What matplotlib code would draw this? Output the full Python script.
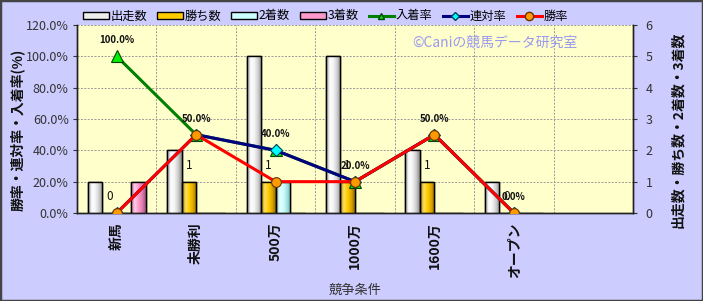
import matplotlib
matplotlib.use("Agg")
import matplotlib.pyplot as plt
import numpy as np
from matplotlib.colors import LinearSegmentedColormap
from matplotlib.patches import Patch
from matplotlib.lines import Line2D
from matplotlib.ticker import FuncFormatter, MultipleLocator

plt.rcParams['font.family'] = ['Noto Sans CJK JP', 'DejaVu Sans']

categories = ['新馬', '未勝利', '500万', '1000万', '1600万', 'オープン']
n_slots = 7
starts = [1, 2, 5, 5, 2, 1]
wins = [0, 1, 1, 1, 1, 0]
seconds = [0, 0, 1, 0, 0, 0]
thirds = [1, 0, 0, 0, 0, 0]
place_rate = [100.0, 50.0, 40.0, 20.0, 50.0, 0.0]
quinella_rate = [0.0, 50.0, 40.0, 20.0, 50.0, 0.0]
win_rate = [0.0, 50.0, 20.0, 20.0, 50.0, 0.0]

bar_names = ['出走数', '勝ち数', '2着数', '3着数']
line_names = ['入着率', '連対率', '勝率']

W, H = 703, 301
fig = plt.figure(figsize=(W / 100, H / 100), dpi=100)
fig.patch.set_facecolor('#CCCCFF')
fig.patches.append(plt.Rectangle((0, 0), 1, 1, transform=fig.transFigure,
                                 fill=False, edgecolor='#444444', linewidth=2.5, zorder=10))

left, right, bottom, top = 77 / W, 633 / W, 1 - 213 / H, 1 - 25 / H
axb = fig.add_axes([left, bottom, right - left, top - bottom])
axl = axb.twinx()
axb.set_facecolor('#FFFFCC')
axl.patch.set_visible(False)

x = np.arange(len(categories))
bw = 0.183
series = [starts, wins, seconds, thirds]
grad = [
    ['#8C8C8C', '#FFFFFF', '#F4F4F4', '#CFCFCF', '#8A8A8A'],
    ['#A07800', '#FFE060', '#FFCC00', '#E0A800', '#906800'],
    ['#80C0C0', '#E8FFFF', '#CCFFFF', '#A8E0E0', '#70B0B0'],
    ['#C06090', '#FFD0E8', '#FF99CC', '#E080B0', '#A05080'],
]
face = ['#EEEEEE', '#FFCC00', '#CCFFFF', '#FF99CC']
offsets = [-1.5, -0.5, 0.5, 1.5]
for vals, off, g, fc in zip(series, offsets, grad, face):
    cmap = LinearSegmentedColormap.from_list('g', g)
    bars = axb.bar(x + off * bw, vals, width=bw, color=fc, edgecolor='black',
                   linewidth=1.0, zorder=3)
    for b in bars:
        h = b.get_height()
        if h <= 0:
            continue
        x0 = b.get_x()
        im = axb.imshow(np.linspace(0, 1, 64).reshape(1, -1), cmap=cmap,
                        extent=[x0, x0 + b.get_width(), 0, h], aspect='auto',
                        zorder=3.5, interpolation='bilinear')
        im.set_clip_path(b)
        axb.bar(b.get_x() + b.get_width() / 2, h, width=b.get_width(), fill=False,
                edgecolor='black', linewidth=1.0, zorder=4)

# win count labels
for xi, v in zip(x, wins):
    axb.annotate(str(v), (xi - 0.5 * bw, v), xytext=(0, 7), textcoords='offset points',
                 ha='center', va='bottom', fontsize=8.5, color='#111111', zorder=6)

axb.set_xlim(-0.5, n_slots - 0.5)
axb.set_ylim(0, 6)
axl.set_ylim(0, 120)

axl.plot(x, place_rate, color='#008000', lw=2.2, marker='^', ms=8,
         mfc='#00EE00', mec='#004400', mew=0.8, zorder=5)
axl.plot(x, quinella_rate, color='#000080', lw=2.2, marker='D', ms=6,
         mfc='#00FFFF', mec='#004060', mew=0.8, zorder=6)
axl.plot(x, win_rate, color='#FF0000', lw=2.2, marker='o', ms=7,
         mfc='#FF9900', mec='#663300', mew=0.8, zorder=7)

for xi, v in zip(x, place_rate):
    axl.annotate(f'{v:.1f}%', (xi, v), xytext=(0, 8), textcoords='offset points',
                 ha='center', va='bottom', fontsize=7, fontweight='bold',
                 color='#111111', zorder=8)

# axes / ticks
axb.yaxis.tick_right()
axb.yaxis.set_label_position('right')
axl.yaxis.tick_left()
axl.yaxis.set_label_position('left')
axb.set_yticks(range(0, 7))
axl.set_yticks(range(0, 121, 20))
axl.yaxis.set_major_formatter(FuncFormatter(lambda v, p: f'{v:.1f}%'))
axb.set_xticks(x)
axb.set_xticklabels(categories, rotation=90, fontsize=10, fontweight='bold')
axb.xaxis.set_minor_locator(MultipleLocator(1, offset=0.5))
axb.tick_params(axis='x', which='both', length=0, pad=7, colors='#111111')
axb.tick_params(axis='y', length=3, labelsize=9, colors='#333333', pad=6)
axl.tick_params(axis='y', length=3, labelsize=9, colors='#333333', pad=3)
axb.grid(axis='y', which='major', color='#999999', linestyle=(0, (2, 1.5)), linewidth=0.7, zorder=0)
axb.grid(axis='x', which='minor', color='#999999', linestyle=(0, (2, 1.5)), linewidth=0.7, zorder=0)
axb.set_axisbelow(True)
for ax in (axb, axl):
    for s in ax.spines.values():
        s.set_color('#222222')
        s.set_linewidth(1.0)
    ax.spines['top'].set_visible(False)
axb.spines['right'].set_visible(True)

axl.set_ylabel('勝率・連対率・入着率(%)', fontsize=10, fontweight='bold', color='#111111')
axl.yaxis.set_label_coords(-0.094, 0.44)
axb.set_ylabel('出走数・勝ち数・2着数・3着数', fontsize=10, fontweight='bold',
               color='#111111', rotation=90)
axb.yaxis.set_label_coords(1.068, 0.44)
axb.set_xlabel('競争条件', fontsize=9.5, color='#333333', labelpad=4)

axb.text(0.752, 0.905, '©Caniの競馬データ研究室', transform=axb.transAxes,
         ha='center', va='center', fontsize=10, color='#9999F0', zorder=2)

handles = [Patch(facecolor=fc, edgecolor='black', linewidth=1.0) for fc in face]
handles += [
    Line2D([], [], color='#008000', lw=2.2, marker='^', ms=5, mfc='#00EE00', mec='#004400'),
    Line2D([], [], color='#000080', lw=2.2, marker='D', ms=4, mfc='#00FFFF', mec='#004060'),
    Line2D([], [], color='#FF0000', lw=2.2, marker='o', ms=6, mfc='#FF9900', mec='#663300'),
]
fig.legend(handles, bar_names + line_names, loc='center', ncol=7,
           bbox_to_anchor=(326 / W, 1 - 16 / H), frameon=False, fontsize=8.8,
           handlelength=2.1, handleheight=0.5, handletextpad=0.15, columnspacing=0.8)

fig.savefig('out.png', dpi=100, facecolor=fig.get_facecolor())
